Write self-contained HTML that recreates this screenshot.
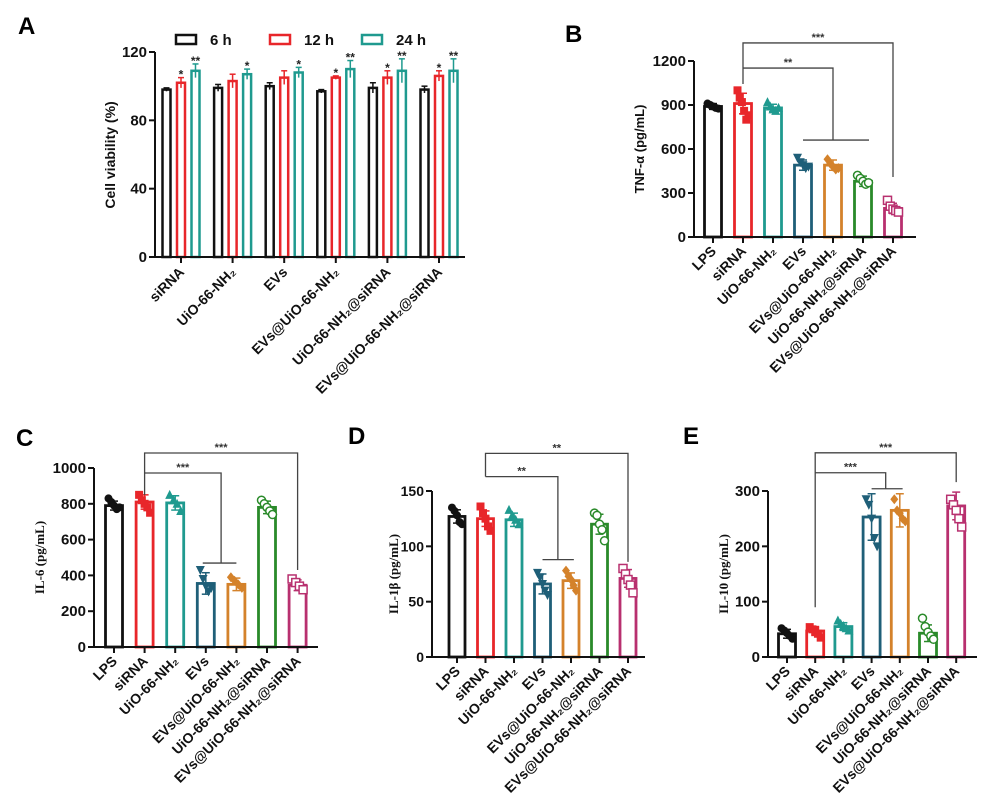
<!DOCTYPE html>
<html><head><meta charset="utf-8"><style>
html,body{margin:0;padding:0;background:#fff;}
svg{display:block;font-family:"Liberation Sans",Arial,sans-serif;}
</style></head><body>
<svg id="fig" width="985" height="808" viewBox="0 0 985 808"></svg>
<script>
// ---------- DATA ----------
const groupsA = ['siRNA','UiO-66-NH₂','EVs','EVs@UiO-66-NH₂','UiO-66-NH₂@siRNA','EVs@UiO-66-NH₂@siRNA'];
const seriesA = ['6 h','12 h','24 h'];
const a6 = [98,99,100,97,99,98];
const a12 = [102,103,105,105,105,106];
const a24 = [109,107,108,110,109,109];
const a6sd = [1,2,2,1,3,2];
const a12sd = [3,4,4,1,4,3];
const a24sd = [4,3,3,5,7,7];
const a12star = ['*','','','*','*','*'];
const a24star = ['**','*','*','**','**','**'];
const ticksA = [0,40,80,120];

const cats = ['LPS','siRNA','UiO-66-NH₂','EVs','EVs@UiO-66-NH₂','UiO-66-NH₂@siRNA','EVs@UiO-66-NH₂@siRNA'];
const tnf = [890,910,880,490,490,380,195];
const tnfSd = [20,70,25,35,35,35,35];
const tnfReps = [[910,900,890,880,875],[1000,950,920,860,800,830],[920,890,870,860,880],[540,510,490,470,480],[530,500,480,460,470],[420,400,380,360,370],[250,210,190,180,170]];
const ticksB = [0,300,600,900,1200];
const il6 = [790,810,805,355,350,780,345];
const il6Sd = [25,40,40,60,35,35,30];
const il6Reps = [[830,810,790,770,780],[850,820,800,780,750],[850,820,800,760],[430,380,340,310,330],[390,370,350,330],[820,800,780,760,740],[380,360,340,320]];
const ticksC = [0,200,400,600,800,1000];
const il1b = [127,125,124,66,69,120,71];
const il1bSd = [6,7,6,9,7,9,8];
const il1bReps = [[135,132,128,122,120],[136,130,125,118,114],[133,128,124,120],[76,72,66,60,56],[78,73,70,65,60],[130,128,120,115,105],[80,75,70,65,58]];
const ticksD = [0,50,100,150];
const il10 = [42,47,55,253,265,43,273];
const il10Sd = [8,8,7,42,30,15,25];
const il10Reps = [[52,48,43,38,33],[54,50,47,42,35],[66,60,56,52,48],[285,275,250,215,200],[285,265,260,250,245],[70,55,45,38,32],[285,275,265,250,235]];
const ticksE = [0,100,200,300];

// ---------- STYLE ----------
const NS='http://www.w3.org/2000/svg';
const svg=document.getElementById('fig');
const catColors=['#111111','#e8262a','#1f9a8f','#1f5f78','#d4822b','#2a8a2a','#b8306f'];
const markers=['circle','square','tri','tridown','diamond','ocircle','osquare'];
function mk(tag,attrs,parent){const e=document.createElementNS(NS,tag);for(const k in attrs)e.setAttribute(k,attrs[k]);(parent||svg).appendChild(e);return e;}
function txt(s,attrs,parent){const e=mk('text',attrs,parent);e.textContent=s;return e;}

function letter(s,x,y){
  const t=txt(s,{x:x,y:y,'font-size':24,'font-weight':'bold',fill:'#000'});
  
  
}

// ---------- PANEL A ----------
(function(){
  const g=mk('g',{});
  
  
  const x0=155,xEnd=465,y0=257,yTop=52,max=120;
  const y=v=>y0-v/max*(y0-yTop);
  const cx=i=>181+i*51.6;
  const cols=['#111111','#e8262a','#1f9a8f'];
  const vals=[a6,a12,a24], sds=[a6sd,a12sd,a24sd], stars=[null,a12star,a24star];
  groupsA.forEach((name,i)=>{
    for(let s=0;s<3;s++){
      const bx=cx(i)+(s-1)*14.5, v=vals[s][i], sd=sds[s][i];
      const r=mk('rect',{x:bx-4,y:y(v),width:8,height:y0-y(v),fill:'#fff',stroke:cols[s],'stroke-width':2.5},g);
      
      
      mk('line',{x1:bx,x2:bx,y1:y(v-sd),y2:y(v+sd),stroke:cols[s],'stroke-width':1.5},g);
      mk('line',{x1:bx-3,x2:bx+3,y1:y(v+sd),y2:y(v+sd),stroke:cols[s],'stroke-width':1.5},g);
      if(stars[s]&&stars[s][i]){
        const st=txt(stars[s][i],{x:bx,y:y(v+sd)+1,'text-anchor':'middle','font-size':12,'font-weight':'bold',fill:'#222'},g);
        
        
      }
    }
    mk('line',{x1:cx(i),x2:cx(i),y1:y0,y2:y0+6,stroke:'#111','stroke-width':2},g);
    const lt=txt(name,{x:0,y:0,'text-anchor':'end','font-size':14,'font-weight':'bold',fill:'#111',transform:`translate(${cx(i)+4},${y0+16}) rotate(-45)`},g);
    
    
  });
  mk('line',{x1:x0,x2:xEnd,y1:y0,y2:y0,stroke:'#111','stroke-width':2},g);
  mk('line',{x1:x0,x2:x0,y1:yTop,y2:y0,stroke:'#111','stroke-width':2},g);
  ticksA.forEach(t=>{
    mk('line',{x1:x0-6,x2:x0,y1:y(t),y2:y(t),stroke:'#111','stroke-width':2},g);
    const tl=txt(String(t),{x:x0-8,y:y(t)+5,'text-anchor':'end','font-size':15,'font-weight':'bold',fill:'#111'},g);
    
    
  });
  const yt=txt('Cell viability (%)',{x:0,y:0,'text-anchor':'middle','font-size':14,'font-weight':'bold',fill:'#111',transform:`translate(115,155) rotate(-90)`},g);
  
  
  const lx=[176,270,362];
  seriesA.forEach((s,k)=>{
    const le=mk('g',{},g);
    
    
    mk('rect',{x:lx[k],y:35,width:20,height:9,fill:'#fff',stroke:cols[k],'stroke-width':2.5},le);
    txt(s,{x:lx[k]+34,y:45,'font-size':15,'font-weight':'bold',fill:'#111'},le);
  });
})();
letter('A',18,34);

// ---------- GENERIC CYTOKINE PANEL ----------
function marker(g,type,x,y,c){
  const r=4;
  if(type==='circle')mk('circle',{cx:x,cy:y,r:r,fill:c},g);
  else if(type==='ocircle')mk('circle',{cx:x,cy:y,r:r,fill:'#fff',stroke:c,'stroke-width':1.5},g);
  else if(type==='square')mk('rect',{x:x-r,y:y-r,width:2*r,height:2*r,fill:c},g);
  else if(type==='osquare')mk('rect',{x:x-r,y:y-r,width:2*r,height:2*r,fill:'#fff',stroke:c,'stroke-width':1.5},g);
  else if(type==='tri')mk('polygon',{points:`${x},${y-r-1} ${x-r-0.5},${y+r} ${x+r+0.5},${y+r}`,fill:c},g);
  else if(type==='tridown')mk('polygon',{points:`${x},${y+r+1} ${x-r-0.5},${y-r} ${x+r+0.5},${y-r}`,fill:c},g);
  else mk('polygon',{points:`${x},${y-r-1} ${x+r},${y} ${x},${y+r+1} ${x-r},${y}`,fill:c},g);
}
function panel(p){
  const g=mk('g',{});
  
  
  const y=v=>p.y0-v/p.max*(p.y0-p.yTop);
  const cx=i=>p.c0+i*p.step;
  cats.forEach((name,i)=>{
    const v=p.vals[i],sd=p.sd[i],c=catColors[i];
    const r=mk('rect',{x:cx(i)-p.bw/2,y:y(v),width:p.bw,height:p.y0-y(v),fill:'#fff',stroke:c,'stroke-width':2.8},g);
    
    
    mk('line',{x1:cx(i),x2:cx(i),y1:y(v-sd),y2:y(v+sd),stroke:c,'stroke-width':1.5},g);
    mk('line',{x1:cx(i)-4,x2:cx(i)+4,y1:y(v+sd),y2:y(v+sd),stroke:c,'stroke-width':1.5},g);
    mk('line',{x1:cx(i)-4,x2:cx(i)+4,y1:y(v-sd),y2:y(v-sd),stroke:c,'stroke-width':1.5},g);
    const reps=p.reps[i], n=reps.length;
    reps.forEach((rv,k)=>{
      const off=(k-(n-1)/2)*(p.bw-6)/Math.max(n-1,1);
      marker(g,markers[i],cx(i)+off,y(rv),c);
    });
    mk('line',{x1:cx(i),x2:cx(i),y1:p.y0,y2:p.y0+6,stroke:'#111','stroke-width':2},g);
    const lt=txt(name,{x:0,y:0,'text-anchor':'end','font-size':14,'font-weight':'bold',fill:'#111',transform:`translate(${cx(i)+4},${p.y0+15}) rotate(-45)`},g);
    
    
  });
  mk('line',{x1:p.x0,x2:p.xEnd,y1:p.y0,y2:p.y0,stroke:'#111','stroke-width':2},g);
  mk('line',{x1:p.x0,x2:p.x0,y1:p.yTop,y2:p.y0,stroke:'#111','stroke-width':2},g);
  p.ticks.forEach(t=>{
    mk('line',{x1:p.x0-6,x2:p.x0,y1:y(t),y2:y(t),stroke:'#111','stroke-width':2},g);
    const tl=txt(String(t),{x:p.x0-8,y:y(t)+5,'text-anchor':'end','font-size':p.tfs||15,'font-weight':'bold',fill:'#111'},g);
    
    
  });
  const yt=txt(p.ylabel,{x:0,y:0,'text-anchor':'middle','font-size':p.yfs,'font-weight':'bold',fill:'#111','font-family':p.serif?'"Liberation Serif",serif':'"Liberation Sans",sans-serif',transform:`translate(${p.ylx},${(p.y0+p.yTop)/2}) rotate(-90)`},g);
  
  
  const b1=p.br1, b2=p.br2;
  const bg=mk('g',{fill:'none',stroke:'#444','stroke-width':1.3},g);
  
  
  mk('polyline',{points:`${cx(1)},${y(b1.leftBottom)} ${cx(1)},${y(b1.top)} ${cx(b1.to)},${y(b1.top)} ${cx(b1.to)},${y(b1.rightBottom)}`},bg);
  mk('polyline',{points:`${cx(1)},${y(b2.top)} ${cx(b2.to)},${y(b2.top)} ${cx(b2.to)},${y(b2.rightBottom)}`},bg);
  mk('line',{x1:cx(b2.h0),x2:cx(b2.h1),y1:y(b2.rightBottom),y2:y(b2.rightBottom)},bg);
  txt(b1.label,{x:(cx(1)+cx(b1.to))/2,y:y(b1.top)-2,'text-anchor':'middle','font-size':11,'font-weight':'bold',fill:'#333'},g);
  txt(b2.label,{x:(cx(1)+cx(b2.to))/2,y:y(b2.top)-2,'text-anchor':'middle','font-size':11,'font-weight':'bold',fill:'#333'},g);
}

panel({name:'panel-b-tnf-alpha',x0:694,xEnd:916,y0:237,yTop:61,max:1200,c0:713,step:30,bw:17,vals:tnf,sd:tnfSd,reps:tnfReps,ticks:ticksB,ylabel:'TNF-α (pg/mL)',yfs:13,ylx:644,serif:false,
  br1:{to:6,top:1323,leftBottom:1043,rightBottom:409,label:'***'},br2:{to:4,top:1152,rightBottom:661,h0:3,h1:5.2,label:'**'}});
letter('B',565,42);
panel({name:'panel-c-il6',x0:94,xEnd:318,y0:647,yTop:468,max:1000,c0:114,step:30.6,bw:17,vals:il6,sd:il6Sd,reps:il6Reps,ticks:ticksC,ylabel:'IL-6 (pg/mL)',yfs:13,ylx:44,serif:true,
  br1:{to:6,top:1084,leftBottom:849,rightBottom:430,label:'***'},br2:{to:3.5,top:972,rightBottom:469,h0:2.9,h1:4.0,label:'***'}});
letter('C',16,446);
panel({name:'panel-d-il1b',x0:432,xEnd:645,y0:657,yTop:491,max:150,c0:457,step:28.5,bw:16,vals:il1b,sd:il1bSd,reps:il1bReps,ticks:ticksD,tfs:14,ylabel:'IL-1β (pg/mL)',yfs:13,ylx:398,serif:true,
  br1:{to:6,top:184,leftBottom:163,rightBottom:86,label:'**'},br2:{to:3.54,top:163,rightBottom:88,h0:3.0,h1:4.1,label:'**'}});
letter('D',348,444);
panel({name:'panel-e-il10',x0:768,xEnd:977,y0:657,yTop:491,max:300,c0:787,step:28.2,bw:17,vals:il10,sd:il10Sd,reps:il10Reps,ticks:ticksE,ylabel:'IL-10 (pg/mL)',yfs:13,ylx:728,serif:true,
  br1:{to:6,top:369,leftBottom:90,rightBottom:316,label:'***'},br2:{to:3.5,top:333,rightBottom:304,h0:3.0,h1:4.1,label:'***'}});
letter('E',683,444);
</script>
</body></html>
